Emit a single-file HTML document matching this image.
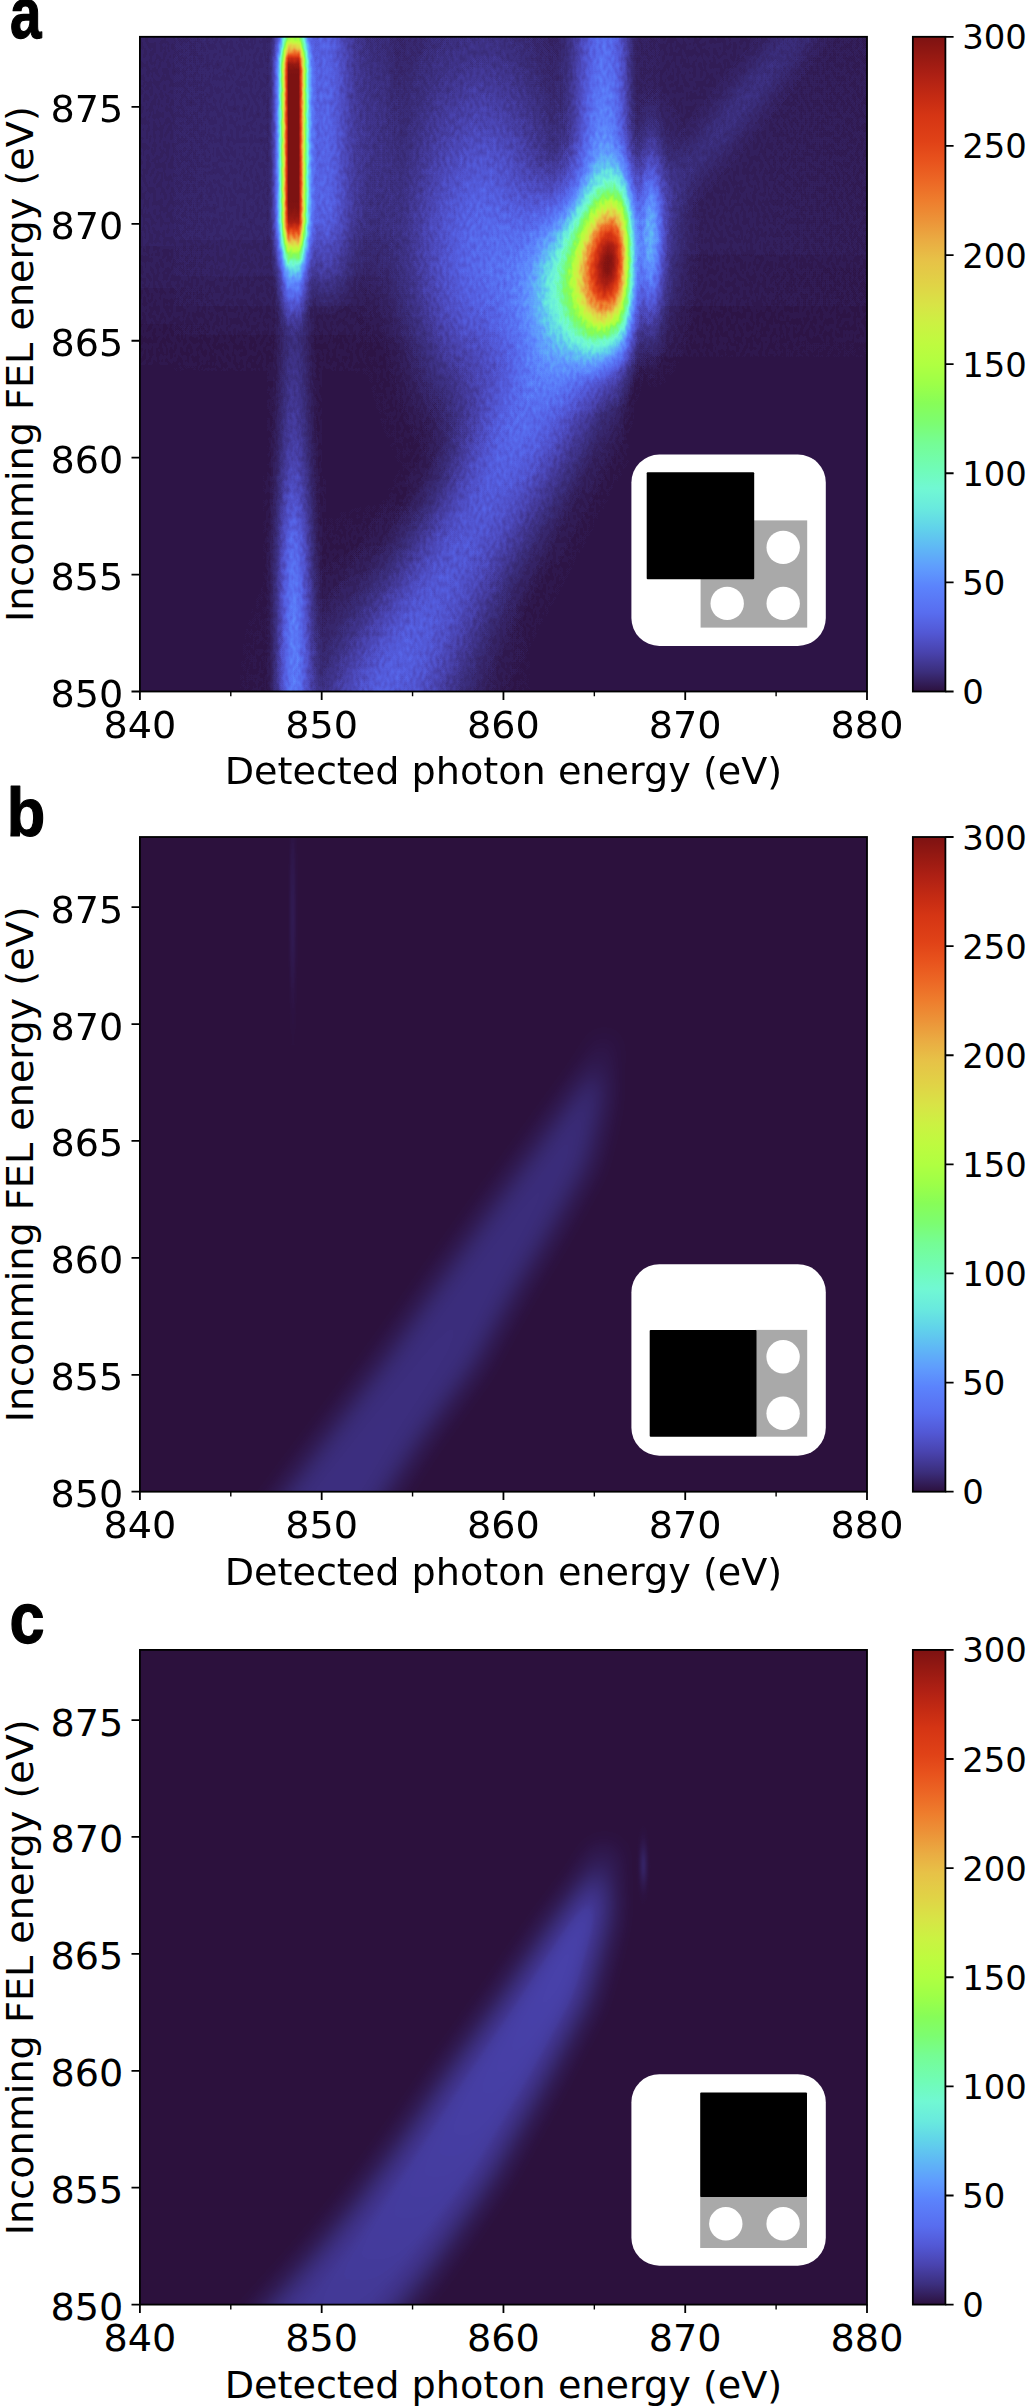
<!DOCTYPE html>
<html><head><meta charset="utf-8"><title>Figure</title>
<style>html,body{margin:0;padding:0;background:#fff}svg{display:block}</style></head>
<body><svg width="1026" height="2406" viewBox="0 0 1026 2406" font-family='"DejaVu Sans","Liberation Sans",sans-serif' fill="#000">
<defs><filter id="turbo" x="0" y="0" width="100%" height="100%" filterUnits="objectBoundingBox" color-interpolation-filters="sRGB"><feTurbulence type="fractalNoise" baseFrequency="0.3 0.16" numOctaves="1" seed="7" result="t"/><feColorMatrix in="t" type="matrix" values="1 0 0 0 0 1 0 0 0 0 1 0 0 0 0 0 0 0 0 1" result="n"/><feComponentTransfer in="SourceGraphic" result="q"><feFuncR type="table" tableValues="0 .25 .354 .433 .5 .559 .612 .661 .707 .74 .76 .76 .72 .62 .45 .22 0"/><feFuncG type="table" tableValues="0 .25 .354 .433 .5 .559 .612 .661 .707 .74 .76 .76 .72 .62 .45 .22 0"/><feFuncB type="table" tableValues="0 .25 .354 .433 .5 .559 .612 .661 .707 .74 .76 .76 .72 .62 .45 .22 0"/></feComponentTransfer><feComposite in="q" in2="n" operator="arithmetic" k1="0.2" k2="-0.1" k3="0" k4="0.5" result="m"/><feComposite in="SourceGraphic" in2="m" operator="arithmetic" k1="0" k2="1" k3="1" k4="-0.5"/><feComponentTransfer><feFuncR type="table" tableValues="0.173 0.202 0.231 0.261 0.288 0.307 0.323 0.335 0.344 0.351 0.361 0.372 0.375 0.378 0.376 0.376 0.384 0.402 0.414 0.427 0.451 0.439 0.440 0.448 0.455 0.468 0.486 0.506 0.529 0.579 0.625 0.665 0.707 0.731 0.754 0.780 0.809 0.836 0.856 0.872 0.886 0.900 0.908 0.916 0.921 0.924 0.932 0.935 0.932 0.929 0.922 0.913 0.901 0.885 0.866 0.843 0.811 0.775 0.737 0.695 0.650 0.601 0.550 0.490"/><feFuncG type="table" tableValues="0.067 0.129 0.179 0.222 0.264 0.304 0.344 0.383 0.427 0.469 0.516 0.566 0.616 0.670 0.725 0.778 0.839 0.888 0.926 0.955 0.980 0.985 0.987 0.988 0.990 0.990 0.991 0.991 0.989 0.997 1.000 1.000 0.998 0.991 0.979 0.961 0.937 0.909 0.880 0.848 0.814 0.775 0.735 0.693 0.645 0.598 0.556 0.513 0.457 0.414 0.373 0.333 0.298 0.268 0.241 0.216 0.192 0.171 0.151 0.133 0.116 0.101 0.088 0.071"/><feFuncB type="table" tableValues="0.243 0.374 0.486 0.590 0.684 0.765 0.835 0.895 0.936 0.967 0.987 0.995 0.990 0.981 0.962 0.938 0.911 0.887 0.864 0.843 0.823 0.761 0.697 0.629 0.561 0.490 0.432 0.382 0.335 0.305 0.281 0.264 0.251 0.247 0.251 0.257 0.263 0.272 0.275 0.275 0.276 0.279 0.276 0.265 0.249 0.230 0.209 0.187 0.165 0.150 0.137 0.119 0.104 0.093 0.085 0.078 0.076 0.076 0.077 0.077 0.074 0.071 0.070 0.071"/></feComponentTransfer></filter>
<filter id="turbo60" x="0" y="0" width="100%" height="100%" filterUnits="objectBoundingBox" color-interpolation-filters="sRGB"><feComponentTransfer><feFuncR type="table" tableValues="0.173 0.182 0.189 0.196 0.203 0.210 0.217 0.225 0.233 0.241 0.249 0.257 0.267 0.275 0.282 0.289 0.295 0.299 0.304 0.308 0.312 0.316 0.320 0.326 0.329 0.332 0.335 0.338 0.340 0.342 0.344 0.346 0.348 0.350 0.351 0.353 0.356 0.359 0.363 0.366 0.369 0.372 0.374 0.375 0.376 0.372 0.373 0.374"/><feFuncG type="table" tableValues="0.067 0.087 0.101 0.115 0.129 0.144 0.157 0.168 0.178 0.189 0.200 0.211 0.232 0.243 0.253 0.264 0.274 0.284 0.294 0.304 0.314 0.324 0.333 0.354 0.363 0.373 0.383 0.394 0.405 0.416 0.427 0.438 0.448 0.459 0.480 0.490 0.502 0.515 0.528 0.541 0.553 0.566 0.579 0.591 0.604 0.627 0.641 0.655"/><feFuncB type="table" tableValues="0.243 0.285 0.315 0.345 0.375 0.404 0.432 0.460 0.487 0.514 0.540 0.566 0.614 0.638 0.661 0.684 0.706 0.726 0.746 0.765 0.783 0.801 0.819 0.851 0.867 0.882 0.895 0.906 0.916 0.926 0.935 0.944 0.952 0.959 0.975 0.981 0.985 0.989 0.991 0.993 0.995 0.995 0.995 0.994 0.992 0.989 0.987 0.984"/></feComponentTransfer></filter>
<radialGradient id="g" cx="0" cy="0" r="1" gradientUnits="userSpaceOnUse"><stop offset="0" stop-color="#fff" stop-opacity="1.0000"/><stop offset="0.08" stop-color="#fff" stop-opacity="0.9692"/><stop offset="0.17" stop-color="#fff" stop-opacity="0.8825"/><stop offset="0.25" stop-color="#fff" stop-opacity="0.7548"/><stop offset="0.33" stop-color="#fff" stop-opacity="0.6065"/><stop offset="0.42" stop-color="#fff" stop-opacity="0.4578"/><stop offset="0.5" stop-color="#fff" stop-opacity="0.3247"/><stop offset="0.58" stop-color="#fff" stop-opacity="0.2163"/><stop offset="0.67" stop-color="#fff" stop-opacity="0.1353"/><stop offset="0.75" stop-color="#fff" stop-opacity="0.0796"/><stop offset="0.83" stop-color="#fff" stop-opacity="0.0439"/><stop offset="0.92" stop-color="#fff" stop-opacity="0.0228"/><stop offset="1" stop-color="#fff" stop-opacity="0.0000"/></radialGradient>
<linearGradient id="cb" x1="0" y1="0" x2="0" y2="1"><stop offset="0" stop-color="#7d1212"/><stop offset="0.03" stop-color="#961912"/><stop offset="0.06" stop-color="#ae2014"/><stop offset="0.09" stop-color="#c32a13"/><stop offset="0.12" stop-color="#d53514"/><stop offset="0.16" stop-color="#e04217"/><stop offset="0.19" stop-color="#e8531d"/><stop offset="0.22" stop-color="#ec6725"/><stop offset="0.25" stop-color="#ee7d2d"/><stop offset="0.28" stop-color="#ec9338"/><stop offset="0.31" stop-color="#eaab42"/><stop offset="0.34" stop-color="#e7c147"/><stop offset="0.38" stop-color="#e0d446"/><stop offset="0.41" stop-color="#d8e446"/><stop offset="0.44" stop-color="#cbf242"/><stop offset="0.47" stop-color="#befb3f"/><stop offset="0.5" stop-color="#b0ff41"/><stop offset="0.53" stop-color="#9dff48"/><stop offset="0.56" stop-color="#87fd58"/><stop offset="0.59" stop-color="#7cfd71"/><stop offset="0.62" stop-color="#75fd94"/><stop offset="0.66" stop-color="#70fcb7"/><stop offset="0.69" stop-color="#71f8d3"/><stop offset="0.72" stop-color="#69eade"/><stop offset="0.75" stop-color="#61d3ea"/><stop offset="0.78" stop-color="#5fb8f5"/><stop offset="0.81" stop-color="#5f9dfd"/><stop offset="0.84" stop-color="#5b83fc"/><stop offset="0.88" stop-color="#586def"/><stop offset="0.91" stop-color="#5258d5"/><stop offset="0.94" stop-color="#4943ae"/><stop offset="0.97" stop-color="#3b2e7c"/><stop offset="1" stop-color="#2c113e"/></linearGradient>
<clipPath id="cp0"><rect x="139.9" y="36.8" width="727.1" height="654.7"/></clipPath>
<linearGradient id="cutg" gradientUnits="userSpaceOnUse" x1="600" y1="0" x2="650" y2="0"><stop offset="0.0000" stop-color="#fff" stop-opacity="1.000"/><stop offset="0.1600" stop-color="#fff" stop-opacity="0.999"/><stop offset="0.2200" stop-color="#fff" stop-opacity="0.997"/><stop offset="0.2800" stop-color="#fff" stop-opacity="0.989"/><stop offset="0.3400" stop-color="#fff" stop-opacity="0.968"/><stop offset="0.4000" stop-color="#fff" stop-opacity="0.917"/><stop offset="0.4600" stop-color="#fff" stop-opacity="0.822"/><stop offset="0.5200" stop-color="#fff" stop-opacity="0.678"/><stop offset="0.5800" stop-color="#fff" stop-opacity="0.500"/><stop offset="0.6400" stop-color="#fff" stop-opacity="0.322"/><stop offset="0.7000" stop-color="#fff" stop-opacity="0.178"/><stop offset="0.7600" stop-color="#fff" stop-opacity="0.083"/><stop offset="0.8200" stop-color="#fff" stop-opacity="0.032"/><stop offset="0.8800" stop-color="#fff" stop-opacity="0.011"/><stop offset="0.9400" stop-color="#fff" stop-opacity="0.003"/><stop offset="1.0000" stop-color="#fff" stop-opacity="0.000"/></linearGradient>
<mask id="cut" maskUnits="userSpaceOnUse" x="0" y="0" width="1026" height="2406"><rect x="0" y="0" width="1026" height="2406" fill="url(#cutg)"/></mask>
<linearGradient id="p1" gradientUnits="userSpaceOnUse" x1="0" y1="0" x2="731.1" y2="0"><stop offset="0" stop-color="#fff" stop-opacity="0.016"/><stop offset="0.1505" stop-color="#fff" stop-opacity="0.021"/><stop offset="0.4103" stop-color="#fff" stop-opacity="0.022"/><stop offset="0.6018" stop-color="#fff" stop-opacity="0.017"/><stop offset="0.7386" stop-color="#fff" stop-opacity="0.013"/><stop offset="1" stop-color="#fff" stop-opacity="0.01"/></linearGradient>
<linearGradient id="q1" gradientUnits="userSpaceOnUse" x1="0" y1="13.42" x2="0" y2="504.44"><stop offset="0" stop-color="#fff" stop-opacity="1"/><stop offset="0.0278" stop-color="#fff" stop-opacity="1"/><stop offset="0.0556" stop-color="#fff" stop-opacity="1"/><stop offset="0.0833" stop-color="#fff" stop-opacity="1"/><stop offset="0.1111" stop-color="#fff" stop-opacity="1"/><stop offset="0.1389" stop-color="#fff" stop-opacity="1"/><stop offset="0.1667" stop-color="#fff" stop-opacity="1"/><stop offset="0.1944" stop-color="#fff" stop-opacity="1"/><stop offset="0.2222" stop-color="#fff" stop-opacity="1"/><stop offset="0.25" stop-color="#fff" stop-opacity="1"/><stop offset="0.2778" stop-color="#fff" stop-opacity="1"/><stop offset="0.3056" stop-color="#fff" stop-opacity="1"/><stop offset="0.3333" stop-color="#fff" stop-opacity="0.999"/><stop offset="0.3611" stop-color="#fff" stop-opacity="0.995"/><stop offset="0.3889" stop-color="#fff" stop-opacity="0.987"/><stop offset="0.4167" stop-color="#fff" stop-opacity="0.968"/><stop offset="0.4444" stop-color="#fff" stop-opacity="0.934"/><stop offset="0.4722" stop-color="#fff" stop-opacity="0.881"/><stop offset="0.5" stop-color="#fff" stop-opacity="0.811"/><stop offset="0.5278" stop-color="#fff" stop-opacity="0.727"/><stop offset="0.5556" stop-color="#fff" stop-opacity="0.636"/><stop offset="0.5833" stop-color="#fff" stop-opacity="0.541"/><stop offset="0.6111" stop-color="#fff" stop-opacity="0.445"/><stop offset="0.6389" stop-color="#fff" stop-opacity="0.351"/><stop offset="0.6667" stop-color="#fff" stop-opacity="0.26"/><stop offset="0.6944" stop-color="#fff" stop-opacity="0.178"/><stop offset="0.7222" stop-color="#fff" stop-opacity="0.11"/><stop offset="0.75" stop-color="#fff" stop-opacity="0.061"/><stop offset="0.7778" stop-color="#fff" stop-opacity="0.029"/><stop offset="0.8056" stop-color="#fff" stop-opacity="0.012"/><stop offset="0.8333" stop-color="#fff" stop-opacity="0.004"/><stop offset="0.8611" stop-color="#fff" stop-opacity="0.001"/><stop offset="0.8889" stop-color="#fff" stop-opacity="0"/><stop offset="0.9167" stop-color="#fff" stop-opacity="0"/><stop offset="0.9444" stop-color="#fff" stop-opacity="0"/><stop offset="0.9722" stop-color="#fff" stop-opacity="0"/><stop offset="1" stop-color="#fff" stop-opacity="0"/></linearGradient>
<mask id="m1" maskUnits="userSpaceOnUse" x="0" y="13.42" width="731.1" height="491.03"><rect x="0" y="13.42" width="731.1" height="491.03" fill="url(#q1)"/></mask>
<linearGradient id="p2" gradientUnits="userSpaceOnUse" x1="-108.9" y1="0" x2="125.4" y2="0"><stop offset="0" stop-color="#fff" stop-opacity="0"/><stop offset="0.0358" stop-color="#fff" stop-opacity="0.001"/><stop offset="0.0715" stop-color="#fff" stop-opacity="0.002"/><stop offset="0.1073" stop-color="#fff" stop-opacity="0.004"/><stop offset="0.143" stop-color="#fff" stop-opacity="0.009"/><stop offset="0.1788" stop-color="#fff" stop-opacity="0.015"/><stop offset="0.2145" stop-color="#fff" stop-opacity="0.025"/><stop offset="0.2503" stop-color="#fff" stop-opacity="0.038"/><stop offset="0.286" stop-color="#fff" stop-opacity="0.055"/><stop offset="0.3218" stop-color="#fff" stop-opacity="0.073"/><stop offset="0.3575" stop-color="#fff" stop-opacity="0.092"/><stop offset="0.3933" stop-color="#fff" stop-opacity="0.108"/><stop offset="0.429" stop-color="#fff" stop-opacity="0.119"/><stop offset="0.4648" stop-color="#fff" stop-opacity="0.123"/><stop offset="0.506" stop-color="#fff" stop-opacity="0.119"/><stop offset="0.5471" stop-color="#fff" stop-opacity="0.108"/><stop offset="0.5883" stop-color="#fff" stop-opacity="0.092"/><stop offset="0.6295" stop-color="#fff" stop-opacity="0.073"/><stop offset="0.6706" stop-color="#fff" stop-opacity="0.055"/><stop offset="0.7118" stop-color="#fff" stop-opacity="0.038"/><stop offset="0.753" stop-color="#fff" stop-opacity="0.025"/><stop offset="0.7941" stop-color="#fff" stop-opacity="0.015"/><stop offset="0.8353" stop-color="#fff" stop-opacity="0.009"/><stop offset="0.8765" stop-color="#fff" stop-opacity="0.004"/><stop offset="0.9177" stop-color="#fff" stop-opacity="0.002"/><stop offset="0.9588" stop-color="#fff" stop-opacity="0.001"/><stop offset="1" stop-color="#fff" stop-opacity="0"/></linearGradient>
<linearGradient id="q2" gradientUnits="userSpaceOnUse" x1="0" y1="-110" x2="0" y2="640"><stop offset="0" stop-color="#fff" stop-opacity="0"/><stop offset="0.0278" stop-color="#fff" stop-opacity="0.016"/><stop offset="0.0556" stop-color="#fff" stop-opacity="0.087"/><stop offset="0.0833" stop-color="#fff" stop-opacity="0.271"/><stop offset="0.1111" stop-color="#fff" stop-opacity="0.545"/><stop offset="0.1389" stop-color="#fff" stop-opacity="0.798"/><stop offset="0.1667" stop-color="#fff" stop-opacity="0.938"/><stop offset="0.1944" stop-color="#fff" stop-opacity="0.976"/><stop offset="0.2222" stop-color="#fff" stop-opacity="0.974"/><stop offset="0.25" stop-color="#fff" stop-opacity="0.964"/><stop offset="0.2778" stop-color="#fff" stop-opacity="0.952"/><stop offset="0.3056" stop-color="#fff" stop-opacity="0.935"/><stop offset="0.3333" stop-color="#fff" stop-opacity="0.913"/><stop offset="0.3611" stop-color="#fff" stop-opacity="0.888"/><stop offset="0.3889" stop-color="#fff" stop-opacity="0.863"/><stop offset="0.4167" stop-color="#fff" stop-opacity="0.838"/><stop offset="0.4444" stop-color="#fff" stop-opacity="0.813"/><stop offset="0.4722" stop-color="#fff" stop-opacity="0.789"/><stop offset="0.5" stop-color="#fff" stop-opacity="0.769"/><stop offset="0.5278" stop-color="#fff" stop-opacity="0.75"/><stop offset="0.5556" stop-color="#fff" stop-opacity="0.733"/><stop offset="0.5833" stop-color="#fff" stop-opacity="0.715"/><stop offset="0.6111" stop-color="#fff" stop-opacity="0.698"/><stop offset="0.6389" stop-color="#fff" stop-opacity="0.682"/><stop offset="0.6667" stop-color="#fff" stop-opacity="0.666"/><stop offset="0.6944" stop-color="#fff" stop-opacity="0.65"/><stop offset="0.7222" stop-color="#fff" stop-opacity="0.635"/><stop offset="0.75" stop-color="#fff" stop-opacity="0.621"/><stop offset="0.7778" stop-color="#fff" stop-opacity="0.608"/><stop offset="0.8056" stop-color="#fff" stop-opacity="0.598"/><stop offset="0.8333" stop-color="#fff" stop-opacity="0.592"/><stop offset="0.8611" stop-color="#fff" stop-opacity="0.586"/><stop offset="0.8889" stop-color="#fff" stop-opacity="0.583"/><stop offset="0.9167" stop-color="#fff" stop-opacity="0.581"/><stop offset="0.9444" stop-color="#fff" stop-opacity="0.58"/><stop offset="0.9722" stop-color="#fff" stop-opacity="0.58"/><stop offset="1" stop-color="#fff" stop-opacity="0.58"/></linearGradient>
<mask id="m2" maskUnits="userSpaceOnUse" x="-108.9" y="-110" width="234.3" height="750"><rect x="-108.9" y="-110" width="234.3" height="750" fill="url(#q2)"/></mask>
<linearGradient id="p3" gradientUnits="userSpaceOnUse" x1="-62.7" y1="0" x2="72.6" y2="0"><stop offset="0" stop-color="#fff" stop-opacity="0"/><stop offset="0.0463" stop-color="#fff" stop-opacity="0.001"/><stop offset="0.0927" stop-color="#fff" stop-opacity="0.004"/><stop offset="0.139" stop-color="#fff" stop-opacity="0.011"/><stop offset="0.1854" stop-color="#fff" stop-opacity="0.023"/><stop offset="0.2317" stop-color="#fff" stop-opacity="0.042"/><stop offset="0.278" stop-color="#fff" stop-opacity="0.069"/><stop offset="0.3244" stop-color="#fff" stop-opacity="0.102"/><stop offset="0.3707" stop-color="#fff" stop-opacity="0.134"/><stop offset="0.4171" stop-color="#fff" stop-opacity="0.158"/><stop offset="0.4634" stop-color="#fff" stop-opacity="0.167"/><stop offset="0.5171" stop-color="#fff" stop-opacity="0.158"/><stop offset="0.5707" stop-color="#fff" stop-opacity="0.134"/><stop offset="0.6244" stop-color="#fff" stop-opacity="0.102"/><stop offset="0.678" stop-color="#fff" stop-opacity="0.069"/><stop offset="0.7317" stop-color="#fff" stop-opacity="0.042"/><stop offset="0.7854" stop-color="#fff" stop-opacity="0.023"/><stop offset="0.839" stop-color="#fff" stop-opacity="0.011"/><stop offset="0.8927" stop-color="#fff" stop-opacity="0.004"/><stop offset="0.9463" stop-color="#fff" stop-opacity="0.001"/><stop offset="1" stop-color="#fff" stop-opacity="0"/></linearGradient>
<linearGradient id="q3" gradientUnits="userSpaceOnUse" x1="0" y1="1.73" x2="0" y2="364.15"><stop offset="0" stop-color="#fff" stop-opacity="0.61"/><stop offset="0.0333" stop-color="#fff" stop-opacity="0.625"/><stop offset="0.0667" stop-color="#fff" stop-opacity="0.645"/><stop offset="0.1" stop-color="#fff" stop-opacity="0.666"/><stop offset="0.1333" stop-color="#fff" stop-opacity="0.689"/><stop offset="0.1667" stop-color="#fff" stop-opacity="0.711"/><stop offset="0.2" stop-color="#fff" stop-opacity="0.735"/><stop offset="0.2333" stop-color="#fff" stop-opacity="0.762"/><stop offset="0.2667" stop-color="#fff" stop-opacity="0.793"/><stop offset="0.3" stop-color="#fff" stop-opacity="0.827"/><stop offset="0.3333" stop-color="#fff" stop-opacity="0.861"/><stop offset="0.3667" stop-color="#fff" stop-opacity="0.895"/><stop offset="0.4" stop-color="#fff" stop-opacity="0.925"/><stop offset="0.4333" stop-color="#fff" stop-opacity="0.949"/><stop offset="0.4667" stop-color="#fff" stop-opacity="0.967"/><stop offset="0.5" stop-color="#fff" stop-opacity="0.98"/><stop offset="0.5333" stop-color="#fff" stop-opacity="0.991"/><stop offset="0.5667" stop-color="#fff" stop-opacity="0.997"/><stop offset="0.6" stop-color="#fff" stop-opacity="0.999"/><stop offset="0.6333" stop-color="#fff" stop-opacity="1"/><stop offset="0.6667" stop-color="#fff" stop-opacity="0.998"/><stop offset="0.7" stop-color="#fff" stop-opacity="0.983"/><stop offset="0.7333" stop-color="#fff" stop-opacity="0.929"/><stop offset="0.7667" stop-color="#fff" stop-opacity="0.809"/><stop offset="0.8" stop-color="#fff" stop-opacity="0.633"/><stop offset="0.8333" stop-color="#fff" stop-opacity="0.436"/><stop offset="0.8667" stop-color="#fff" stop-opacity="0.249"/><stop offset="0.9" stop-color="#fff" stop-opacity="0.106"/><stop offset="0.9333" stop-color="#fff" stop-opacity="0.03"/><stop offset="0.9667" stop-color="#fff" stop-opacity="0.005"/><stop offset="1" stop-color="#fff" stop-opacity="0"/></linearGradient>
<mask id="m3" maskUnits="userSpaceOnUse" x="-62.7" y="1.73" width="135.3" height="362.42"><rect x="-62.7" y="1.73" width="135.3" height="362.42" fill="url(#q3)"/></mask>
<linearGradient id="p4" gradientUnits="userSpaceOnUse" x1="-34.65" y1="0" x2="37.95" y2="0"><stop offset="0" stop-color="#fff" stop-opacity="0"/><stop offset="0.0477" stop-color="#fff" stop-opacity="0.001"/><stop offset="0.0955" stop-color="#fff" stop-opacity="0.004"/><stop offset="0.1432" stop-color="#fff" stop-opacity="0.009"/><stop offset="0.1909" stop-color="#fff" stop-opacity="0.019"/><stop offset="0.2386" stop-color="#fff" stop-opacity="0.035"/><stop offset="0.2864" stop-color="#fff" stop-opacity="0.058"/><stop offset="0.3341" stop-color="#fff" stop-opacity="0.086"/><stop offset="0.3818" stop-color="#fff" stop-opacity="0.112"/><stop offset="0.4295" stop-color="#fff" stop-opacity="0.133"/><stop offset="0.4773" stop-color="#fff" stop-opacity="0.14"/><stop offset="0.5295" stop-color="#fff" stop-opacity="0.133"/><stop offset="0.5818" stop-color="#fff" stop-opacity="0.112"/><stop offset="0.6341" stop-color="#fff" stop-opacity="0.086"/><stop offset="0.6864" stop-color="#fff" stop-opacity="0.058"/><stop offset="0.7386" stop-color="#fff" stop-opacity="0.035"/><stop offset="0.7909" stop-color="#fff" stop-opacity="0.019"/><stop offset="0.8432" stop-color="#fff" stop-opacity="0.009"/><stop offset="0.8955" stop-color="#fff" stop-opacity="0.004"/><stop offset="0.9477" stop-color="#fff" stop-opacity="0.001"/><stop offset="1" stop-color="#fff" stop-opacity="0"/></linearGradient>
<linearGradient id="q4" gradientUnits="userSpaceOnUse" x1="0" y1="258.93" x2="0" y2="726.57"><stop offset="0" stop-color="#fff" stop-opacity="0"/><stop offset="0.0294" stop-color="#fff" stop-opacity="0.074"/><stop offset="0.0588" stop-color="#fff" stop-opacity="0.133"/><stop offset="0.0882" stop-color="#fff" stop-opacity="0.177"/><stop offset="0.1176" stop-color="#fff" stop-opacity="0.199"/><stop offset="0.1471" stop-color="#fff" stop-opacity="0.215"/><stop offset="0.1765" stop-color="#fff" stop-opacity="0.229"/><stop offset="0.2059" stop-color="#fff" stop-opacity="0.245"/><stop offset="0.2353" stop-color="#fff" stop-opacity="0.263"/><stop offset="0.2647" stop-color="#fff" stop-opacity="0.281"/><stop offset="0.2941" stop-color="#fff" stop-opacity="0.301"/><stop offset="0.3235" stop-color="#fff" stop-opacity="0.322"/><stop offset="0.3529" stop-color="#fff" stop-opacity="0.349"/><stop offset="0.3824" stop-color="#fff" stop-opacity="0.378"/><stop offset="0.4118" stop-color="#fff" stop-opacity="0.412"/><stop offset="0.4412" stop-color="#fff" stop-opacity="0.456"/><stop offset="0.4706" stop-color="#fff" stop-opacity="0.512"/><stop offset="0.5" stop-color="#fff" stop-opacity="0.572"/><stop offset="0.5294" stop-color="#fff" stop-opacity="0.639"/><stop offset="0.5588" stop-color="#fff" stop-opacity="0.716"/><stop offset="0.5882" stop-color="#fff" stop-opacity="0.796"/><stop offset="0.6176" stop-color="#fff" stop-opacity="0.867"/><stop offset="0.6471" stop-color="#fff" stop-opacity="0.917"/><stop offset="0.6765" stop-color="#fff" stop-opacity="0.951"/><stop offset="0.7059" stop-color="#fff" stop-opacity="0.977"/><stop offset="0.7353" stop-color="#fff" stop-opacity="0.994"/><stop offset="0.7647" stop-color="#fff" stop-opacity="0.999"/><stop offset="0.7941" stop-color="#fff" stop-opacity="1"/><stop offset="0.8235" stop-color="#fff" stop-opacity="1"/><stop offset="0.8529" stop-color="#fff" stop-opacity="0.996"/><stop offset="0.8824" stop-color="#fff" stop-opacity="0.981"/><stop offset="0.9118" stop-color="#fff" stop-opacity="0.951"/><stop offset="0.9412" stop-color="#fff" stop-opacity="0.92"/><stop offset="0.9706" stop-color="#fff" stop-opacity="0.904"/><stop offset="1" stop-color="#fff" stop-opacity="0.9"/></linearGradient>
<mask id="m4" maskUnits="userSpaceOnUse" x="-34.65" y="258.93" width="72.6" height="467.64"><rect x="-34.65" y="258.93" width="72.6" height="467.64" fill="url(#q4)"/></mask>
<linearGradient id="p5" gradientUnits="userSpaceOnUse" x1="-39.6" y1="0" x2="66" y2="0"><stop offset="0" stop-color="#fff" stop-opacity="0"/><stop offset="0.0375" stop-color="#fff" stop-opacity="0.001"/><stop offset="0.075" stop-color="#fff" stop-opacity="0.003"/><stop offset="0.1125" stop-color="#fff" stop-opacity="0.006"/><stop offset="0.15" stop-color="#fff" stop-opacity="0.013"/><stop offset="0.1875" stop-color="#fff" stop-opacity="0.024"/><stop offset="0.225" stop-color="#fff" stop-opacity="0.04"/><stop offset="0.2625" stop-color="#fff" stop-opacity="0.059"/><stop offset="0.3" stop-color="#fff" stop-opacity="0.078"/><stop offset="0.3375" stop-color="#fff" stop-opacity="0.092"/><stop offset="0.375" stop-color="#fff" stop-opacity="0.097"/><stop offset="0.4375" stop-color="#fff" stop-opacity="0.092"/><stop offset="0.5" stop-color="#fff" stop-opacity="0.078"/><stop offset="0.5625" stop-color="#fff" stop-opacity="0.059"/><stop offset="0.625" stop-color="#fff" stop-opacity="0.04"/><stop offset="0.6875" stop-color="#fff" stop-opacity="0.024"/><stop offset="0.75" stop-color="#fff" stop-opacity="0.013"/><stop offset="0.8125" stop-color="#fff" stop-opacity="0.006"/><stop offset="0.875" stop-color="#fff" stop-opacity="0.003"/><stop offset="0.9375" stop-color="#fff" stop-opacity="0.001"/><stop offset="1" stop-color="#fff" stop-opacity="0"/></linearGradient>
<linearGradient id="q5" gradientUnits="userSpaceOnUse" x1="0" y1="1.73" x2="0" y2="340.77"><stop offset="0" stop-color="#fff" stop-opacity="0.906"/><stop offset="0.0333" stop-color="#fff" stop-opacity="0.915"/><stop offset="0.0667" stop-color="#fff" stop-opacity="0.928"/><stop offset="0.1" stop-color="#fff" stop-opacity="0.941"/><stop offset="0.1333" stop-color="#fff" stop-opacity="0.955"/><stop offset="0.1667" stop-color="#fff" stop-opacity="0.969"/><stop offset="0.2" stop-color="#fff" stop-opacity="0.982"/><stop offset="0.2333" stop-color="#fff" stop-opacity="0.992"/><stop offset="0.2667" stop-color="#fff" stop-opacity="0.998"/><stop offset="0.3" stop-color="#fff" stop-opacity="1"/><stop offset="0.3333" stop-color="#fff" stop-opacity="1"/><stop offset="0.3667" stop-color="#fff" stop-opacity="1"/><stop offset="0.4" stop-color="#fff" stop-opacity="1"/><stop offset="0.4333" stop-color="#fff" stop-opacity="1"/><stop offset="0.4667" stop-color="#fff" stop-opacity="1"/><stop offset="0.5" stop-color="#fff" stop-opacity="1"/><stop offset="0.5333" stop-color="#fff" stop-opacity="1"/><stop offset="0.5667" stop-color="#fff" stop-opacity="0.997"/><stop offset="0.6" stop-color="#fff" stop-opacity="0.979"/><stop offset="0.6333" stop-color="#fff" stop-opacity="0.927"/><stop offset="0.6667" stop-color="#fff" stop-opacity="0.838"/><stop offset="0.7" stop-color="#fff" stop-opacity="0.73"/><stop offset="0.7333" stop-color="#fff" stop-opacity="0.619"/><stop offset="0.7667" stop-color="#fff" stop-opacity="0.512"/><stop offset="0.8" stop-color="#fff" stop-opacity="0.407"/><stop offset="0.8333" stop-color="#fff" stop-opacity="0.304"/><stop offset="0.8667" stop-color="#fff" stop-opacity="0.202"/><stop offset="0.9" stop-color="#fff" stop-opacity="0.108"/><stop offset="0.9333" stop-color="#fff" stop-opacity="0.04"/><stop offset="0.9667" stop-color="#fff" stop-opacity="0.009"/><stop offset="1" stop-color="#fff" stop-opacity="0"/></linearGradient>
<mask id="m5" maskUnits="userSpaceOnUse" x="-39.6" y="1.73" width="105.6" height="339.04"><rect x="-39.6" y="1.73" width="105.6" height="339.04" fill="url(#q5)"/></mask>
<linearGradient id="p6" gradientUnits="userSpaceOnUse" x1="-27.72" y1="0" x2="28.44" y2="0"><stop offset="0" stop-color="#fff" stop-opacity="0"/><stop offset="0.0308" stop-color="#fff" stop-opacity="0.002"/><stop offset="0.0617" stop-color="#fff" stop-opacity="0.007"/><stop offset="0.0925" stop-color="#fff" stop-opacity="0.016"/><stop offset="0.1234" stop-color="#fff" stop-opacity="0.032"/><stop offset="0.1542" stop-color="#fff" stop-opacity="0.059"/><stop offset="0.1851" stop-color="#fff" stop-opacity="0.102"/><stop offset="0.2159" stop-color="#fff" stop-opacity="0.165"/><stop offset="0.2468" stop-color="#fff" stop-opacity="0.256"/><stop offset="0.2776" stop-color="#fff" stop-opacity="0.375"/><stop offset="0.3085" stop-color="#fff" stop-opacity="0.521"/><stop offset="0.3393" stop-color="#fff" stop-opacity="0.689"/><stop offset="0.3702" stop-color="#fff" stop-opacity="0.866"/><stop offset="0.401" stop-color="#fff" stop-opacity="1"/><stop offset="0.4319" stop-color="#fff" stop-opacity="1"/><stop offset="0.4627" stop-color="#fff" stop-opacity="1"/><stop offset="0.4936" stop-color="#fff" stop-opacity="1"/><stop offset="0.5252" stop-color="#fff" stop-opacity="1"/><stop offset="0.5569" stop-color="#fff" stop-opacity="1"/><stop offset="0.5885" stop-color="#fff" stop-opacity="1"/><stop offset="0.6202" stop-color="#fff" stop-opacity="0.866"/><stop offset="0.6518" stop-color="#fff" stop-opacity="0.689"/><stop offset="0.6835" stop-color="#fff" stop-opacity="0.521"/><stop offset="0.7151" stop-color="#fff" stop-opacity="0.375"/><stop offset="0.7468" stop-color="#fff" stop-opacity="0.256"/><stop offset="0.7784" stop-color="#fff" stop-opacity="0.165"/><stop offset="0.8101" stop-color="#fff" stop-opacity="0.102"/><stop offset="0.8417" stop-color="#fff" stop-opacity="0.059"/><stop offset="0.8734" stop-color="#fff" stop-opacity="0.032"/><stop offset="0.905" stop-color="#fff" stop-opacity="0.016"/><stop offset="0.9367" stop-color="#fff" stop-opacity="0.007"/><stop offset="0.9683" stop-color="#fff" stop-opacity="0.002"/><stop offset="1" stop-color="#fff" stop-opacity="0"/></linearGradient>
<linearGradient id="q6" gradientUnits="userSpaceOnUse" x1="0" y1="13.42" x2="0" y2="352.46"><stop offset="0" stop-color="#fff" stop-opacity="0.213"/><stop offset="0.0167" stop-color="#fff" stop-opacity="0.255"/><stop offset="0.0333" stop-color="#fff" stop-opacity="0.309"/><stop offset="0.05" stop-color="#fff" stop-opacity="0.367"/><stop offset="0.0667" stop-color="#fff" stop-opacity="0.44"/><stop offset="0.0833" stop-color="#fff" stop-opacity="0.529"/><stop offset="0.1" stop-color="#fff" stop-opacity="0.632"/><stop offset="0.1167" stop-color="#fff" stop-opacity="0.764"/><stop offset="0.1333" stop-color="#fff" stop-opacity="0.9"/><stop offset="0.15" stop-color="#fff" stop-opacity="0.97"/><stop offset="0.1667" stop-color="#fff" stop-opacity="0.996"/><stop offset="0.1833" stop-color="#fff" stop-opacity="1"/><stop offset="0.2" stop-color="#fff" stop-opacity="1"/><stop offset="0.2167" stop-color="#fff" stop-opacity="1"/><stop offset="0.2333" stop-color="#fff" stop-opacity="1"/><stop offset="0.25" stop-color="#fff" stop-opacity="1"/><stop offset="0.2667" stop-color="#fff" stop-opacity="1"/><stop offset="0.2833" stop-color="#fff" stop-opacity="1"/><stop offset="0.3" stop-color="#fff" stop-opacity="1"/><stop offset="0.3167" stop-color="#fff" stop-opacity="1"/><stop offset="0.3333" stop-color="#fff" stop-opacity="1"/><stop offset="0.35" stop-color="#fff" stop-opacity="1"/><stop offset="0.3667" stop-color="#fff" stop-opacity="1"/><stop offset="0.3833" stop-color="#fff" stop-opacity="1"/><stop offset="0.4" stop-color="#fff" stop-opacity="1"/><stop offset="0.4167" stop-color="#fff" stop-opacity="1"/><stop offset="0.4333" stop-color="#fff" stop-opacity="1"/><stop offset="0.45" stop-color="#fff" stop-opacity="1"/><stop offset="0.4667" stop-color="#fff" stop-opacity="1"/><stop offset="0.4833" stop-color="#fff" stop-opacity="1"/><stop offset="0.5" stop-color="#fff" stop-opacity="1"/><stop offset="0.5167" stop-color="#fff" stop-opacity="1"/><stop offset="0.5333" stop-color="#fff" stop-opacity="1"/><stop offset="0.55" stop-color="#fff" stop-opacity="1"/><stop offset="0.5667" stop-color="#fff" stop-opacity="0.996"/><stop offset="0.5833" stop-color="#fff" stop-opacity="0.986"/><stop offset="0.6" stop-color="#fff" stop-opacity="0.973"/><stop offset="0.6167" stop-color="#fff" stop-opacity="0.944"/><stop offset="0.6333" stop-color="#fff" stop-opacity="0.875"/><stop offset="0.65" stop-color="#fff" stop-opacity="0.786"/><stop offset="0.6667" stop-color="#fff" stop-opacity="0.693"/><stop offset="0.6833" stop-color="#fff" stop-opacity="0.593"/><stop offset="0.7" stop-color="#fff" stop-opacity="0.493"/><stop offset="0.7167" stop-color="#fff" stop-opacity="0.406"/><stop offset="0.7333" stop-color="#fff" stop-opacity="0.327"/><stop offset="0.75" stop-color="#fff" stop-opacity="0.257"/><stop offset="0.7667" stop-color="#fff" stop-opacity="0.206"/><stop offset="0.7833" stop-color="#fff" stop-opacity="0.166"/><stop offset="0.8" stop-color="#fff" stop-opacity="0.137"/><stop offset="0.8167" stop-color="#fff" stop-opacity="0.112"/><stop offset="0.8333" stop-color="#fff" stop-opacity="0.089"/><stop offset="0.85" stop-color="#fff" stop-opacity="0.07"/><stop offset="0.8667" stop-color="#fff" stop-opacity="0.054"/><stop offset="0.8833" stop-color="#fff" stop-opacity="0.039"/><stop offset="0.9" stop-color="#fff" stop-opacity="0.026"/><stop offset="0.9167" stop-color="#fff" stop-opacity="0.017"/><stop offset="0.9333" stop-color="#fff" stop-opacity="0.008"/><stop offset="0.95" stop-color="#fff" stop-opacity="0.002"/><stop offset="0.9667" stop-color="#fff" stop-opacity="0"/><stop offset="0.9833" stop-color="#fff" stop-opacity="0"/><stop offset="1" stop-color="#fff" stop-opacity="0"/></linearGradient>
<mask id="m6" maskUnits="userSpaceOnUse" x="-27.72" y="13.42" width="56.16" height="339.04"><rect x="-27.72" y="13.42" width="56.16" height="339.04" fill="url(#q6)"/></mask>
<clipPath id="cp1"><rect x="139.9" y="837" width="727.1" height="654.7"/></clipPath>
<filter id="bl130" x="-50%" y="-20%" width="200%" height="140%" color-interpolation-filters="sRGB"><feGaussianBlur stdDeviation="13"/></filter>
<linearGradient id="pf7" gradientUnits="userSpaceOnUse" x1="0" y1="1040" x2="0" y2="1494"><stop offset="0" stop-color="#fff" stop-opacity="0.9"/><stop offset="1" stop-color="#fff" stop-opacity="1"/></linearGradient>
<clipPath id="cp2"><rect x="139.9" y="1649.9" width="727.1" height="654.7"/></clipPath>
<filter id="bl140" x="-50%" y="-20%" width="200%" height="140%" color-interpolation-filters="sRGB"><feGaussianBlur stdDeviation="14"/></filter>
<linearGradient id="pf8" gradientUnits="userSpaceOnUse" x1="0" y1="1850" x2="0" y2="2306"><stop offset="0" stop-color="#fff" stop-opacity="1"/><stop offset="1" stop-color="#fff" stop-opacity="0.74"/></linearGradient></defs>
<rect width="1026" height="2406" fill="#fff"/>
<g filter="url(#turbo)" clip-path="url(#cp0)"><rect x="138.9" y="35.8" width="729.1" height="656.7" fill="#000"/><g transform="translate(137.9 0) rotate(0)"><rect x="0" y="13.42" width="731.1" height="491.03" fill="url(#p1)" mask="url(#m1)"/></g><circle r="1" fill="url(#g)" opacity="0.02" transform="translate(374.39 142.02) scale(49.08 280.59)"/><circle r="1" fill="url(#g)" opacity="0.16" transform="translate(650.69 237.89) scale(22.9 147.31)"/><circle r="1" fill="url(#g)" opacity="0.04" transform="translate(654.32 237.89) scale(54.53 182.38)"/><circle r="1" fill="url(#g)" opacity="0.1" transform="translate(630.69 263.61) scale(22.9 154.32)"/><circle r="1" fill="url(#g)" opacity="0.02" transform="translate(743.39 102.27) rotate(39) scale(43.63 350.73)"/><g mask="url(#cut)"><circle r="1" fill="url(#g)" opacity="0.09" transform="translate(488.91 275.3) scale(141.78 280.59)"/><circle r="1" fill="url(#g)" opacity="0.03" transform="translate(478 177.09) scale(119.97 350.73)"/><g transform="translate(609.6 270.62) rotate(28)"><rect x="-108.9" y="-110" width="234.3" height="750" fill="url(#p2)" mask="url(#m2)"/></g><circle r="1" fill="url(#g)" opacity="0.03" transform="translate(385.3 679.81) scale(185.41 224.47)"/><g transform="translate(603.43 0) rotate(0)"><rect x="-62.7" y="1.73" width="135.3" height="362.42" fill="url(#p3)" mask="url(#m3)"/></g><circle r="1" fill="url(#g)" opacity="0.43" transform="translate(597.06 271.79) rotate(20) scale(114 150)"/><circle r="1" fill="url(#g)" opacity="1" transform="translate(608.52 263.61) rotate(6) scale(51 120)"/></g><g transform="translate(293.5 0) rotate(0)"><rect x="-34.65" y="258.93" width="72.6" height="467.64" fill="url(#p4)" mask="url(#m4)"/></g><g transform="translate(323.49 0) rotate(0)"><rect x="-39.6" y="1.73" width="105.6" height="339.04" fill="url(#p5)" mask="url(#m5)"/></g><g transform="translate(293.5 0) rotate(0)"><rect x="-27.72" y="13.42" width="56.16" height="339.04" fill="url(#p6)" mask="url(#m6)"/></g></g>
<rect x="631.4" y="454.5" width="194.4" height="191.5" rx="28" fill="#fff"/><rect x="700.6" y="520.4" width="106.6" height="107.2" fill="#a9a9a9"/><rect x="646.7" y="472.2" width="107.5" height="107.1" rx="1" fill="#000"/><circle cx="783.2" cy="547.4" r="16.7" fill="#fff"/><circle cx="727.2" cy="603.4" r="16.7" fill="#fff"/><circle cx="783.2" cy="603.4" r="16.7" fill="#fff"/>
<rect x="139.9" y="36.8" width="727.1" height="654.7" fill="none" stroke="#000" stroke-width="1.8"/>
<path d="M139.9 691.5v8.4M321.68 691.5v8.4M503.45 691.5v8.4M685.23 691.5v8.4M867 691.5v8.4M139.9 691.5h-8.4M139.9 574.59h-8.4M139.9 457.68h-8.4M139.9 340.77h-8.4M139.9 223.86h-8.4M139.9 106.95h-8.4" stroke="#000" stroke-width="1.8" fill="none"/>
<path d="M230.79 691.5v4.8M412.56 691.5v4.8M594.34 691.5v4.8M776.11 691.5v4.8" stroke="#000" stroke-width="1.4" fill="none"/>
<g font-size="38.15"><text x="139.9" y="737.7" text-anchor="middle">840</text><text x="321.68" y="737.7" text-anchor="middle">850</text><text x="503.45" y="737.7" text-anchor="middle">860</text><text x="685.23" y="737.7" text-anchor="middle">870</text><text x="867" y="737.7" text-anchor="middle">880</text><text x="123.2" y="707" text-anchor="end">850</text><text x="123.2" y="590.09" text-anchor="end">855</text><text x="123.2" y="473.18" text-anchor="end">860</text><text x="123.2" y="356.27" text-anchor="end">865</text><text x="123.2" y="239.36" text-anchor="end">870</text><text x="123.2" y="122.45" text-anchor="end">875</text><text x="503.45" y="784.4" text-anchor="middle">Detected photon energy (eV)</text><text transform="translate(32.5 364.15) rotate(-90)" text-anchor="middle">Inconming FEL energy (eV)</text></g>
<rect x="912.85" y="36.8" width="32.55" height="654.7" fill="url(#cb)" stroke="#000" stroke-width="1.8"/>
<path d="M945.4 691.5h8.2M945.4 582.38h8.2M945.4 473.27h8.2M945.4 364.15h8.2M945.4 255.03h8.2M945.4 145.92h8.2M945.4 36.8h8.2" stroke="#000" stroke-width="1.8" fill="none"/>
<g font-size="33.9"><text x="962.2" y="704">0</text><text x="962.2" y="594.88">50</text><text x="962.2" y="485.77">100</text><text x="962.2" y="376.65">150</text><text x="962.2" y="267.53">200</text><text x="962.2" y="158.42">250</text><text x="962.2" y="49.3">300</text></g>
<text transform="translate(9.9 37.5) scale(0.78 1)" font-family='"Liberation Sans","DejaVu Sans",sans-serif' font-weight="bold" font-size="72.5" stroke="#000" stroke-width="1.3" stroke-linejoin="round">a</text>
<g filter="url(#turbo60)" clip-path="url(#cp1)"><rect x="138.9" y="836" width="729.1" height="656.7" fill="#000"/><path d="M608.5 1040L600.8 1064.95L602.44 1089.9L598.97 1114.86L593.02 1139.81L587.06 1164.76L573.35 1189.71L559.57 1214.67L545.4 1239.62L530.35 1264.57L515.3 1289.52L501.45 1314.48L487.93 1339.43L474.42 1364.38L456.64 1389.33L438.37 1414.29L420.2 1439.24L404.16 1464.19L388.12 1489.14L372.08 1514.1L356.04 1539.05L340 1564L232.5 1564L251.21 1539.05L269.93 1514.1L288.64 1489.14L307.35 1464.19L326.04 1439.24L344.74 1414.29L363.47 1389.33L382.21 1364.38L399.9 1339.43L417.22 1314.48L434.55 1289.52L452.18 1264.57L469.85 1239.62L487.53 1214.67L505.66 1189.71L523.81 1164.76L541.94 1139.81L559.92 1114.86L577.89 1089.9L595.8 1064.95L603.5 1040Z" fill="url(#pf7)" opacity="0.18" filter="url(#bl130)"/><circle r="1" fill="url(#g)" opacity="0.05" transform="translate(292.59 916.5) scale(6.54 168.35)"/></g>
<rect x="631.4" y="1264.2" width="194.4" height="191.5" rx="28" fill="#fff"/><rect x="755" y="1329.9" width="52.2" height="106.8" fill="#a9a9a9"/><rect x="649.7" y="1329.9" width="106.8" height="106.8" rx="1" fill="#000"/><circle cx="783.1" cy="1356.8" r="16.7" fill="#fff"/><circle cx="783.1" cy="1413.3" r="16.7" fill="#fff"/>
<rect x="139.9" y="837" width="727.1" height="654.7" fill="none" stroke="#000" stroke-width="1.8"/>
<path d="M139.9 1491.7v8.4M321.68 1491.7v8.4M503.45 1491.7v8.4M685.23 1491.7v8.4M867 1491.7v8.4M139.9 1491.7h-8.4M139.9 1374.79h-8.4M139.9 1257.88h-8.4M139.9 1140.97h-8.4M139.9 1024.06h-8.4M139.9 907.15h-8.4" stroke="#000" stroke-width="1.8" fill="none"/>
<path d="M230.79 1491.7v4.8M412.56 1491.7v4.8M594.34 1491.7v4.8M776.11 1491.7v4.8" stroke="#000" stroke-width="1.4" fill="none"/>
<g font-size="38.15"><text x="139.9" y="1537.9" text-anchor="middle">840</text><text x="321.68" y="1537.9" text-anchor="middle">850</text><text x="503.45" y="1537.9" text-anchor="middle">860</text><text x="685.23" y="1537.9" text-anchor="middle">870</text><text x="867" y="1537.9" text-anchor="middle">880</text><text x="123.2" y="1507.2" text-anchor="end">850</text><text x="123.2" y="1390.29" text-anchor="end">855</text><text x="123.2" y="1273.38" text-anchor="end">860</text><text x="123.2" y="1156.47" text-anchor="end">865</text><text x="123.2" y="1039.56" text-anchor="end">870</text><text x="123.2" y="922.65" text-anchor="end">875</text><text x="503.45" y="1584.6" text-anchor="middle">Detected photon energy (eV)</text><text transform="translate(32.5 1164.35) rotate(-90)" text-anchor="middle">Inconming FEL energy (eV)</text></g>
<rect x="912.85" y="837" width="32.55" height="654.7" fill="url(#cb)" stroke="#000" stroke-width="1.8"/>
<path d="M945.4 1491.7h8.2M945.4 1382.58h8.2M945.4 1273.47h8.2M945.4 1164.35h8.2M945.4 1055.23h8.2M945.4 946.12h8.2M945.4 837h8.2" stroke="#000" stroke-width="1.8" fill="none"/>
<g font-size="33.9"><text x="962.2" y="1504.2">0</text><text x="962.2" y="1395.08">50</text><text x="962.2" y="1285.97">100</text><text x="962.2" y="1176.85">150</text><text x="962.2" y="1067.73">200</text><text x="962.2" y="958.62">250</text><text x="962.2" y="849.5">300</text></g>
<text transform="translate(6.7 836) scale(0.87 0.955)" font-family='"Liberation Sans","DejaVu Sans",sans-serif' font-weight="bold" font-size="72.5" stroke="#000" stroke-width="1.3" stroke-linejoin="round">b</text>
<g filter="url(#turbo60)" clip-path="url(#cp2)"><rect x="138.9" y="1648.9" width="729.1" height="656.7" fill="#000"/><path d="M609 1850L602.76 1875.05L606.51 1900.1L604.09 1925.14L597.61 1950.19L591.14 1975.24L584.33 2000.29L571.25 2025.33L558.17 2050.38L545.09 2075.43L531.75 2100.48L518.11 2125.52L504.48 2150.57L490.84 2175.62L474.39 2200.67L457.51 2225.71L440.62 2250.76L422.83 2275.81L403.06 2300.86L383.29 2325.9L363.51 2350.95L343.74 2376L210.33 2376L232.04 2350.95L253.75 2325.9L275.46 2300.86L298.53 2275.81L320.53 2250.76L341.63 2225.71L361.31 2200.67L379.85 2175.62L398.4 2150.57L415.89 2125.52L432.94 2100.48L449.99 2075.43L467.89 2050.38L485.98 2025.33L504.07 2000.29L520.96 1975.24L537.78 1950.19L555.23 1925.14L574.35 1900.1L593.46 1875.05L604 1850Z" fill="url(#pf8)" opacity="0.33" filter="url(#bl140)"/><circle r="1" fill="url(#g)" opacity="0.1" transform="translate(643.42 1865.02) scale(7.63 42.09)"/></g>
<rect x="631.4" y="2074.2" width="194.4" height="191.5" rx="28" fill="#fff"/><rect x="700.2" y="2196" width="106.8" height="52" fill="#a9a9a9"/><rect x="700.2" y="2092.5" width="106.8" height="104.5" rx="1" fill="#000"/><circle cx="725.8" cy="2223.7" r="16.7" fill="#fff"/><circle cx="783.1" cy="2223.7" r="16.7" fill="#fff"/>
<rect x="139.9" y="1649.9" width="727.1" height="654.7" fill="none" stroke="#000" stroke-width="1.8"/>
<path d="M139.9 2304.6v8.4M321.68 2304.6v8.4M503.45 2304.6v8.4M685.23 2304.6v8.4M867 2304.6v8.4M139.9 2304.6h-8.4M139.9 2187.69h-8.4M139.9 2070.78h-8.4M139.9 1953.87h-8.4M139.9 1836.96h-8.4M139.9 1720.05h-8.4" stroke="#000" stroke-width="1.8" fill="none"/>
<path d="M230.79 2304.6v4.8M412.56 2304.6v4.8M594.34 2304.6v4.8M776.11 2304.6v4.8" stroke="#000" stroke-width="1.4" fill="none"/>
<g font-size="38.15"><text x="139.9" y="2350.8" text-anchor="middle">840</text><text x="321.68" y="2350.8" text-anchor="middle">850</text><text x="503.45" y="2350.8" text-anchor="middle">860</text><text x="685.23" y="2350.8" text-anchor="middle">870</text><text x="867" y="2350.8" text-anchor="middle">880</text><text x="123.2" y="2320.1" text-anchor="end">850</text><text x="123.2" y="2203.19" text-anchor="end">855</text><text x="123.2" y="2086.28" text-anchor="end">860</text><text x="123.2" y="1969.37" text-anchor="end">865</text><text x="123.2" y="1852.46" text-anchor="end">870</text><text x="123.2" y="1735.55" text-anchor="end">875</text><text x="503.45" y="2397.5" text-anchor="middle">Detected photon energy (eV)</text><text transform="translate(32.5 1977.25) rotate(-90)" text-anchor="middle">Inconming FEL energy (eV)</text></g>
<rect x="912.85" y="1649.9" width="32.55" height="654.7" fill="url(#cb)" stroke="#000" stroke-width="1.8"/>
<path d="M945.4 2304.6h8.2M945.4 2195.48h8.2M945.4 2086.37h8.2M945.4 1977.25h8.2M945.4 1868.13h8.2M945.4 1759.02h8.2M945.4 1649.9h8.2" stroke="#000" stroke-width="1.8" fill="none"/>
<g font-size="33.9"><text x="962.2" y="2317.1">0</text><text x="962.2" y="2207.98">50</text><text x="962.2" y="2098.87">100</text><text x="962.2" y="1989.75">150</text><text x="962.2" y="1880.63">200</text><text x="962.2" y="1771.52">250</text><text x="962.2" y="1662.4">300</text></g>
<text transform="translate(9.4 1643) scale(0.87 1)" font-family='"Liberation Sans","DejaVu Sans",sans-serif' font-weight="bold" font-size="72.5" stroke="#000" stroke-width="1.3" stroke-linejoin="round">c</text>
</svg></body></html>
